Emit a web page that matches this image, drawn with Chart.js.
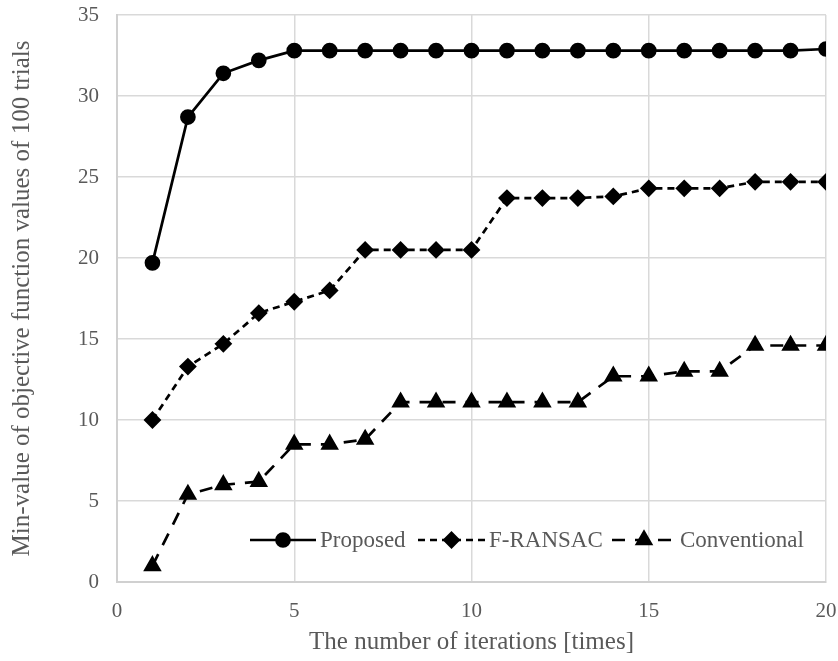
<!DOCTYPE html>
<html>
<head>
<meta charset="utf-8">
<script src="https://cdn.jsdelivr.net/npm/chart.js@4"></script>
<style>
  html, body { margin: 0; padding: 0; background: #fff; }
  canvas { display: block; }
</style>
</head>
<body>
<canvas id="myChart" width="838" height="661"></canvas>
<script>
const iterations = [1, 2, 3, 4, 5, 6, 7, 8, 9, 10, 11, 12, 13, 14, 15, 16, 17, 18, 19, 20];
const proposed = [19.7, 28.7, 31.4, 32.2, 32.8, 32.8, 32.8, 32.8, 32.8, 32.8, 32.8, 32.8, 32.8, 32.8, 32.8, 32.8, 32.8, 32.8, 32.8, 32.9];
const fRansac = [10.0, 13.3, 14.7, 16.6, 17.3, 18.0, 20.5, 20.5, 20.5, 20.5, 23.7, 23.7, 23.7, 23.8, 24.3, 24.3, 24.3, 24.7, 24.7, 24.7];
const conventional = [1.0, 5.4, 6.0, 6.2, 8.5, 8.5, 8.8, 11.1, 11.1, 11.1, 11.1, 11.1, 11.1, 12.7, 12.7, 13.0, 13.0, 14.6, 14.6, 14.6];
const seriesNames = ["Proposed", "F-RANSAC", "Conventional"];

const FONT = "'Liberation Serif', 'DejaVu Serif', serif";
const TEXT = "#595959";

const toXY = (ys) => ys.map((y, i) => ({ x: iterations[i], y }));

// drop the label-overflow padding so layout.padding alone decides the plot box
const noOverflow = (scale) => {
  scale.paddingTop = 0;
  scale.paddingBottom = 0;
  scale.paddingLeft = 0;
  scale.paddingRight = 0;
};

const data = {
  datasets: [
    {
      label: seriesNames[0],
      data: toXY(proposed),
      borderColor: "#000",
      backgroundColor: "#000",
      borderWidth: 2.7,
      pointStyle: "circle",
      pointRadius: 6.5,
    },
    {
      label: seriesNames[1],
      data: toXY(fRansac),
      borderColor: "#000",
      backgroundColor: "#000",
      borderWidth: 2.7,
      borderDash: [7, 5],
      pointStyle: "rectRot",
      pointRadius: 7,
    },
    {
      label: seriesNames[2],
      data: toXY(conventional),
      borderColor: "#000",
      backgroundColor: "#000",
      borderWidth: 2.7,
      borderDash: [13, 10],
      pointStyle: "triangle",
      pointRadius: 8,
    },
  ],
};

// legend sits inside the plot, bottom right
const insideLegend = {
  id: "insideLegend",
  afterDraw: (chart) => {
    const { ctx } = chart;
    const y = 540;
    const items = [
      { x0: 250, x1: 316, dash: [], style: "circle", r: 6.5 },
      { x0: 418, x1: 485, dash: [7, 5], style: "rectRot", r: 7 },
      { x0: 612, x1: 676, dash: [13, 10], style: "triangle", r: 8 },
    ];
    ctx.save();
    items.forEach((it, i) => {
      ctx.strokeStyle = "#000";
      ctx.fillStyle = "#000";
      ctx.lineWidth = 2.7;
      ctx.setLineDash(it.dash);
      ctx.beginPath();
      ctx.moveTo(it.x0, y);
      ctx.lineTo(it.x1, y);
      ctx.stroke();
      ctx.setLineDash([]);
      Chart.helpers.drawPoint(ctx, { pointStyle: it.style, radius: it.r, rotation: 0, borderWidth: 1 }, (it.x0 + it.x1) / 2, y);
      ctx.font = "23px " + FONT;
      ctx.fillStyle = TEXT;
      ctx.textAlign = "left";
      ctx.textBaseline = "middle";
      ctx.fillText(seriesNames[i], it.x1 + 4, y + 1);
    });
    ctx.restore();
  },
};

const config = {
  type: "line",
  data,
  options: {
    responsive: false,
    animation: false,
    devicePixelRatio: 1,
    layout: { padding: { top: 15, right: 12, left: 3, bottom: 0 } },
    plugins: {
      legend: { display: false },
      tooltip: { enabled: false },
    },
    scales: {
      x: {
        type: "linear",
        min: 0,
        max: 20,
        afterFit: (scale) => { scale.height = 79; noOverflow(scale); },
        ticks: {
          stepSize: 5,
          color: TEXT,
          font: { family: FONT, size: 21 },
          padding: 17,
          maxRotation: 0,
        },
        grid: { color: "#d9d9d9", lineWidth: 1.5, drawTicks: false },
        border: { color: "#d0d0d0", width: 2 },
        title: {
          display: true,
          text: "The number of iterations [times]",
          color: TEXT,
          font: { family: FONT, size: 25 },
          padding: { top: 0 },
        },
      },
      y: {
        min: 0,
        max: 35,
        afterFit: (scale) => { scale.width = 114; noOverflow(scale); },
        ticks: {
          stepSize: 5,
          color: TEXT,
          font: { family: FONT, size: 21 },
          padding: 18,
        },
        grid: { color: "#d9d9d9", lineWidth: 1.5, drawTicks: false },
        border: { color: "#d0d0d0", width: 2 },
        title: {
          display: true,
          text: "Min-value of objective function values of 100 trials",
          color: TEXT,
          font: { family: FONT, size: 25 },
          padding: { bottom: 0 },
        },
      },
    },
  },
  plugins: [insideLegend],
};

const myChart = new Chart(document.getElementById("myChart"), config);
</script>
</body>
</html>
